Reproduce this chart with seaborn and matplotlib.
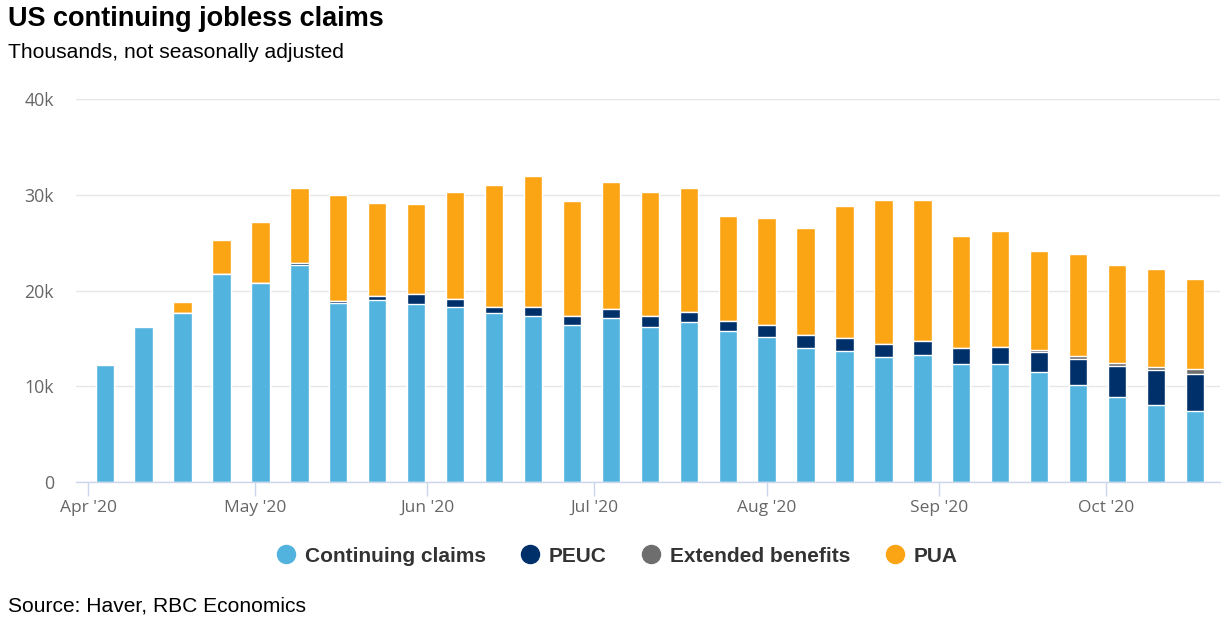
import numpy as np
import pandas as pd
import matplotlib
matplotlib.use("Agg")
import matplotlib.pyplot as plt
import matplotlib.dates as mdates
from matplotlib.lines import Line2D
import seaborn as sns

# ---- data (thousands) ----
week_ending = pd.date_range("2020-04-04", periods=29, freq="7D")
continuing = [12200, 16200, 17600, 21700, 20800, 22650, 18700, 19000, 18600, 18270,
              17640, 17330, 16390, 17080, 16180, 16700, 15760, 15130, 13950, 13670,
              13050, 13260, 12320, 12320, 11480, 10080, 8870, 8000, 7410]
peuc = [0, 0, 0, 0, 0, 250, 200, 400, 1000, 850,
        600, 900, 950, 1000, 1200, 1100, 1050, 1250, 1450, 1400,
        1400, 1500, 1650, 1800, 2100, 2800, 3200, 3650, 3900]
extended = [0] * 24 + [200, 250, 350, 350, 500]
pua = [0, 0, 1250, 3600, 6400, 7850, 11060, 9750, 9400, 11150,
       12830, 13770, 11990, 13300, 12890, 12950, 10960, 11240, 11100, 13800,
       15050, 14740, 11730, 12080, 10370, 10700, 10280, 10270, 9390]
series_names = ["Continuing claims", "PEUC", "Extended benefits", "PUA"]
colors = ["#52B3DE", "#00306A", "#6E6E6E", "#FBA414"]
yticks = [0, 10000, 20000, 30000, 40000]
ytick_labels = ["0", "10k", "20k", "30k", "40k"]

df = pd.DataFrame({
    "x": mdates.date2num(week_ending),
    "cc": continuing, "peuc": peuc, "eb": extended, "pua": pua,
})
df["l1"] = df["cc"]
df["l2"] = df["cc"] + df["peuc"]
df["l3"] = df["l2"] + df["eb"]
df["l4"] = df["l3"] + df["pua"]

sns.set_theme(style="white")
plt.rcParams["font.family"] = ["Liberation Sans", "DejaVu Sans"]

fig = plt.figure(figsize=(12.27, 6.26), dpi=100)
ax = fig.add_axes([76 / 1227, 1 - 482 / 626, (1220 - 76) / 1227, (482 - 99) / 626])

for col, c in zip(["l4", "l3", "l2", "l1"], colors[::-1]):
    sns.barplot(data=df, x="x", y=col, native_scale=True, color=c, saturation=1,
                width=0.47, edgecolor="white", linewidth=1, errorbar=None, ax=ax,
                zorder=3)

ax.set_ylim(0, 40000)
ax.set_yticks(yticks)
ax.set_yticklabels(ytick_labels)
x0 = mdates.date2num(pd.Timestamp("2020-04-01")) - 2.16
x1 = mdates.date2num(pd.Timestamp("2020-10-01")) + 20.5
ax.set_xlim(x0, x1)
ax.xaxis.set_major_locator(mdates.MonthLocator())
ax.xaxis.set_major_formatter(mdates.DateFormatter("%b '%y"))
ax.set_xlabel("")
ax.set_ylabel("")

ax.grid(axis="y", color="#e6e6e6", linewidth=1, zorder=0)
ax.grid(axis="x", visible=False)
for s in ["top", "right", "left"]:
    ax.spines[s].set_visible(False)
ax.spines["bottom"].set_color("#ccd6eb")
ax.spines["bottom"].set_linewidth(1)
ax.spines["bottom"].set_zorder(4)
ax.tick_params(axis="x", length=10, width=1, color="#ccd6eb", direction="out",
               pad=3, labelsize=12.5, labelcolor="#666666", bottom=True)
ax.tick_params(axis="y", length=0, pad=16, labelsize=12.8, labelcolor="#666666")
for lab in ax.get_xticklabels() + ax.get_yticklabels():
    lab.set_family(["Open Sans", "DejaVu Sans"])

fig.text(8 / 1227, 1 - 19 / 626, "US continuing jobless claims", fontsize=19.5,
         fontweight="bold", color="#000000", ha="left", va="center")
fig.text(8 / 1227, 1 - 53 / 626, "Thousands, not seasonally adjusted", fontsize=15.1,
         color="#000000", ha="left", va="center")
fig.text(8 / 1227, 1 - 606 / 626, "Source: Haver, RBC Economics", fontsize=15.1,
         color="#000000", ha="left", va="center")

handles = [Line2D([0], [0], marker="o", linestyle="none", markersize=13,
                  markerfacecolor=c, markeredgecolor=c) for c in colors]
leg = fig.legend(handles, series_names, loc="center", bbox_to_anchor=(616.5 / 1227, 1 - 556 / 626),
                 ncol=4, frameon=False, handlelength=1.0, handletextpad=0.41,
                 columnspacing=1.62, borderpad=0, borderaxespad=0,
                 prop={"weight": "bold", "size": 15})
for t in leg.get_texts():
    t.set_color("#333333")

fig.savefig("out.png", dpi=100)
